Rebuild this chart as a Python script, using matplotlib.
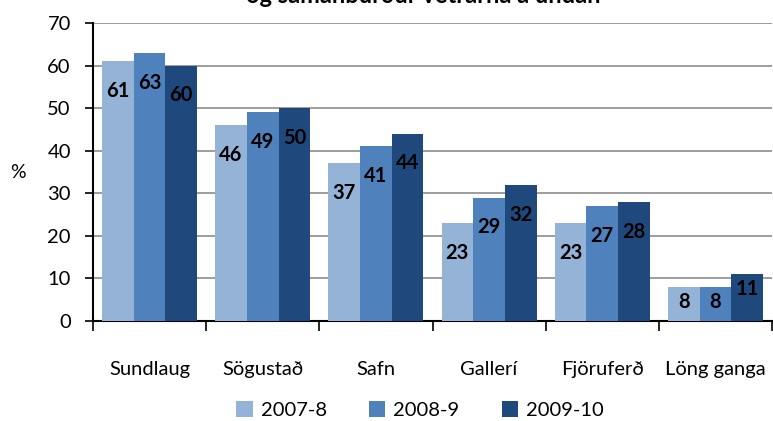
import numpy as np
import matplotlib.pyplot as plt

# data
categories = ['Sundlaug', 'Sögustað', 'Safn', 'Gallerí', 'Fjöruferð', 'Löng ganga']
series_names = ['2007-8', '2008-9', '2009-10']
v2007 = [61, 46, 37, 23, 23, 8]
v2008 = [63, 49, 41, 29, 27, 8]
v2009 = [60, 50, 44, 32, 28, 11]
colors = ['#95b3d7', '#4f81bd', '#1f497d']
title = 'og samanburður vetrarna á undan'

plt.rcParams['font.family'] = ['Lato', 'DejaVu Sans']

W, H = 773, 421
fig = plt.figure(figsize=(W / 100, H / 100), dpi=100)
ax = fig.add_axes([93 / W, 1 - 321 / H, (772 - 93) / W, (321 - 23) / H])

x = np.arange(len(categories))
bw = 0.28
for i, (vals, col) in enumerate(zip([v2007, v2008, v2009], colors)):
    xs = x + (i - 1) * bw
    ax.bar(xs, vals, width=bw, color=col, label=series_names[i], zorder=3)
    for xi, v in zip(xs, vals):
        # labels sit a bit below the top of each bar
        off = 7 if v > 15 else 3.6
        ax.text(xi, v - off, str(v), ha='center', va='center',
                fontsize=14.5, fontweight='bold', color='black', zorder=4)

ax.set_xlim(-0.5, len(categories) - 0.5)
ax.set_ylim(0, 70)
ax.set_yticks(np.arange(0, 71, 10))
ax.yaxis.grid(True, color='#8c8c8c', linewidth=1.2, zorder=0)
ax.set_axisbelow(True)

ax.set_xticks(x)
ax.set_xticklabels(categories, fontsize=14.5)
ax.tick_params(axis='x', which='major', length=0, pad=29)
ax.set_xticks(np.arange(-0.5, len(categories)), minor=True)
ax.tick_params(axis='x', which='minor', length=7, width=1.2, direction='out')
ax.tick_params(axis='y', labelsize=14.5, length=6, width=1.2, direction='out', pad=10)

for s in ['top', 'right']:
    ax.spines[s].set_visible(False)
for s in ['left', 'bottom']:
    ax.spines[s].set_linewidth(1.5)
    ax.spines[s].set_color('black')

fig.text(18 / W, 1 - 172 / H, '%', fontsize=14, ha='center', va='center')

fig.text(423 / W, 1 - 3 / H, title, fontsize=17, fontweight='bold',
         ha='center', va='baseline')

ax.legend(loc='center', bbox_to_anchor=(420 / W, 1 - 410 / H),
          bbox_transform=fig.transFigure, ncol=3, frameon=False,
          fontsize=14.5, handlelength=0.8, handleheight=0.8,
          columnspacing=2.1, handletextpad=0.4)

fig.savefig('out.png', dpi=100)
